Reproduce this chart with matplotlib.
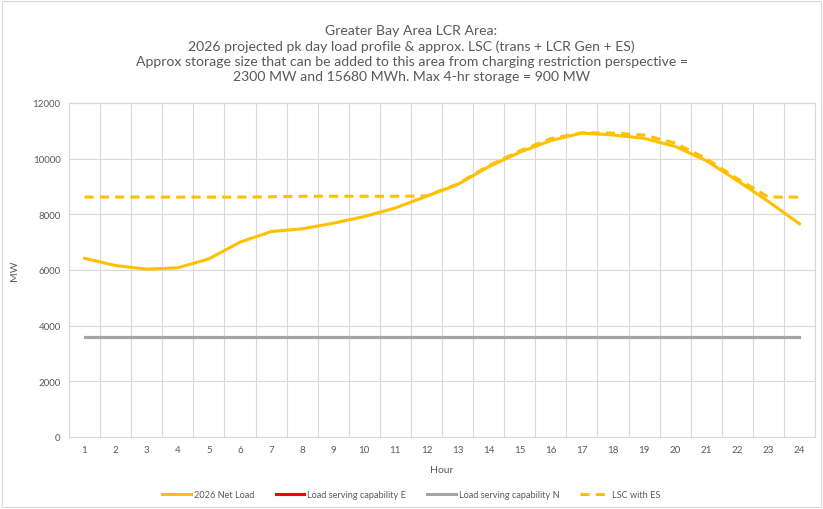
import matplotlib
matplotlib.use("Agg")
import matplotlib.pyplot as plt
from matplotlib.patches import Rectangle

hours = list(range(1, 25))
net_load = [6420, 6160, 6030, 6080, 6400, 7000, 7380, 7480, 7680, 7920, 8230, 8650,
            9070, 9710, 10230, 10650, 10920, 10850, 10730, 10440, 9930, 9210, 8460, 7660]
lsc_e = [3590] * 24
lsc_n = [3590] * 24
lsc_es = [8620, 8620, 8620, 8620, 8620, 8620, 8630, 8650, 8650, 8650, 8650, 8660,
          9090, 9750, 10280, 10720, 10930, 10920, 10850, 10560, 10000, 9280, 8620, 8620]

title = ("Greater Bay Area LCR Area:\n"
         "2026 projected pk day load profile & approx. LSC (trans + LCR Gen + ES)\n"
         "Approx storage size that can be added to this area from charging restriction perspective =\n"
         "2300 MW and 15680 MWh. Max 4-hr storage = 900 MW")

plt.rcParams['font.family'] = ['Lato', 'DejaVu Sans']
txt = '#595959'

fig = plt.figure(figsize=(8.23, 5.10), dpi=100)
ax = fig.add_axes([69/823, 1 - 438/510, (815-69)/823, (438-104)/510])

ax.plot(hours, lsc_e, color='#ff0000', lw=2.2, label='Load serving capability E', zorder=3)
ax.plot(hours, lsc_n, color='#a5a5a5', lw=2.2, label='Load serving capability N', zorder=4)
ax.plot(hours, net_load, color='#ffc000', lw=2.2, label='2026 Net Load', zorder=5)
ax.plot(hours, lsc_es, color='#ffc000', lw=2.2, ls=(0, (3, 2)), label='LSC with ES', zorder=6)

ax.set_xlim(0.5, 24.5)
ax.set_ylim(0, 12000)
ax.set_yticks(range(0, 12001, 2000))
ax.set_xticks(hours)
ax.set_xticks([h + 0.5 for h in range(0, 25)], minor=True)
ax.grid(False)
ax.yaxis.grid(True, color='#d9d9d9', lw=0.8)
ax.xaxis.grid(True, which='minor', color='#d9d9d9', lw=0.8)
ax.set_axisbelow(True)
for s in ax.spines.values():
    s.set_color('#d9d9d9')
    s.set_linewidth(0.8)
ax.tick_params(axis='both', which='both', length=0, labelsize=7, colors=txt, pad=6)
ax.set_xlabel('Hour', fontsize=7.5, color=txt, labelpad=8)
ax.set_ylabel('MW', fontsize=7.5, color=txt, labelpad=10)

fig.text(0.5, 1 - 54/510, title, ha='center', va='center', fontsize=10.1, color=txt,
         linespacing=1.3)

handles, labels = ax.get_legend_handles_labels()
order = [2, 0, 1, 3]
leg = fig.legend([handles[i] for i in order], [labels[i] for i in order],
                 loc='center', bbox_to_anchor=(0.5, 1 - 496/510), ncol=4, frameon=False,
                 fontsize=6.6, handlelength=3.1, columnspacing=2.3, handletextpad=0.35)
for t in leg.get_texts():
    t.set_color(txt)

fig.patches.append(Rectangle((0.003, 0.003), 0.994, 0.994, transform=fig.transFigure,
                             fill=False, edgecolor='#d9d9d9', lw=0.8))

fig.savefig('out.png', dpi=100)
